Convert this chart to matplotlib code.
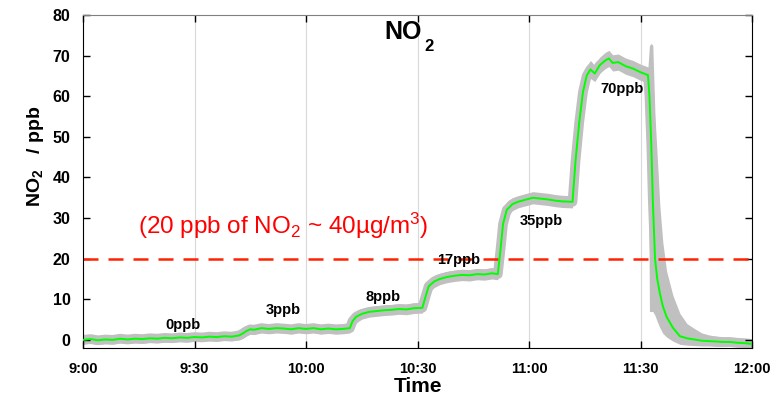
import numpy as np
import matplotlib
matplotlib.use('Agg')
import matplotlib.pyplot as plt

plt.rcParams['font.family'] = ['Liberation Sans', 'DejaVu Sans']
plt.rcParams['mathtext.fontset'] = 'custom'
plt.rcParams['mathtext.rm'] = 'Liberation Sans'
plt.rcParams['mathtext.it'] = 'Liberation Sans:italic'
plt.rcParams['mathtext.bf'] = 'Liberation Sans:bold'

# ==================== DATA ====================
# minutes after 9:00
minutes = [0, 2, 4, 6, 8, 10, 12, 14, 16, 18, 20, 22, 24, 26, 28, 30, 32, 34, 36, 38, 40,
           42, 43, 44, 45, 46, 48, 50, 52, 54, 56, 58, 60, 62, 64, 66, 68, 70, 71.8,
           72.5, 73.5, 75, 77, 79, 81, 83, 85, 87, 89, 91.3,
           92.2, 93, 94.5, 96, 98, 100, 102, 104, 106, 108, 110, 111.6,
           112.3, 113.0, 114, 115.5, 117, 119, 121, 123, 125, 127, 129, 131.7,
           132.5, 133.5, 134.5, 135.5, 136.5, 137.7, 139, 140.5, 141.5, 142.5, 144, 146, 148, 150, 152,
           152.4, 152.9, 153.3, 153.9, 154.5, 155.2, 156.0, 157.0, 158.7, 160.6, 162.5, 164.5, 166.5,
           168.5, 170.5, 172, 174, 176, 178, 180]
no2_ppb = [0.0, 0.2, -0.1, 0.1, 0.0, 0.3, 0.1, 0.3, 0.2, 0.4, 0.3, 0.5, 0.4, 0.6, 0.5, 0.7, 0.6, 0.8, 0.7, 0.9, 0.8,
           1.1, 1.6, 2.2, 2.6, 2.5, 2.9, 2.7, 2.9, 2.8, 2.6, 2.9, 2.7, 2.9, 2.6, 2.8, 2.6, 2.7, 2.9,
           4.6, 5.7, 6.4, 6.9, 7.1, 7.3, 7.4, 7.6, 7.5, 7.8, 7.9,
           10.8, 13.2, 14.4, 15.0, 15.5, 15.8, 16.0, 15.9, 16.2, 16.1, 16.4, 16.2,
           22.0, 28.5, 32.0, 33.4, 34.0, 34.5, 35.0, 34.8, 34.6, 34.3, 34.1, 34.0,
           44.0, 53.5, 61.0, 65.0, 66.6, 65.6, 67.6, 68.8, 69.3, 68.2, 68.4, 67.4, 66.8, 65.9, 65.2,
           60.0, 48.0, 34.5, 20.0, 15.0, 11.5, 8.3, 5.7, 3.0, 0.9, 0.4, 0.1, -0.2,
           -0.3, -0.4, -0.5, -0.5, -0.7, -0.8, -1.0]
err_dn = [1.0] * 21 + [1.1, 1.2, 1.2, 1.2] + [1.2] * 14 + \
         [1.5, 1.5] + [1.3] * 9 + \
         [2.0, 1.6, 1.5] + [1.4] * 9 + \
         [2.5, 2.5, 2.0, 1.6] + [1.5] * 8 + \
         [2.5, 2.5, 2.5, 2.5, 2.2] + [2.0] * 10 + \
         [53, 41, 27.5, 14, 10.5, 8.5, 6.7, 5.0, 3.3, 2.0, 1.7, 1.5, 1.3] + \
         [1.2, 1.2, 1.1, 1.0, 1.0, 1.0, 1.0]
err_up = [1.0] * 21 + [1.1, 1.2, 1.2, 1.2] + [1.2] * 14 + \
         [1.5, 1.5] + [1.3] * 9 + \
         [2.0, 1.6, 1.5] + [1.4] * 9 + \
         [2.5, 2.5, 2.0, 1.6] + [1.5] * 8 + \
         [2.5, 2.5, 2.5, 2.5, 2.2] + [2.0] * 10 + \
         [12.5, 25, 38, 35, 30, 21.5, 15.7, 11.3, 8.0, 5.6, 3.6, 2.7, 1.9] + \
         [1.5, 1.3, 1.1, 1.0, 1.0, 1.0, 1.0]

tick_minutes = [0, 30, 60, 90, 120, 150, 180]
tick_labels = ['9:00', '9:30', '10:00', '10:30', '11:00', '11:30', '12:00']

step_labels = ['0ppb', '3ppb', '8ppb', '17ppb', '35ppb', '70ppb']
step_x = [26.9, 54.0, 80.7, 101.2, 123.2, 145.0]
step_y = [3.7, 7.4, 10.6, 19.7, 29.3, 61.8]

limit_ppb = 20
# ==============================================

t = np.array(minutes)
y = np.array(no2_ppb)
lo = y - np.array(err_dn)
hi = y + np.array(err_up)

fig = plt.figure(figsize=(7.71, 3.98), dpi=100)
ax = fig.add_axes([0.1077, 0.1256, 0.8677, 0.8367])

for xm in tick_minutes[1:-1]:
    ax.axvline(xm, color='#d9d9d9', lw=0.8, zorder=0)

ax.fill_between(t, lo, hi, color='#c0c0c0', lw=0, zorder=1)
ax.plot(t, y, color='#c0c0c0', lw=7, solid_joinstyle='round', solid_capstyle='butt', zorder=1)
ax.plot(t, y, color='#00ff00', lw=1.4, zorder=3)

ax.axhline(limit_ppb, color='#ff2200', lw=1.8, ls=(0, (6, 4)), zorder=2)

ax.text(53.8, 28, '(20 ppb of NO$_2$ ~ 40µg/m$^3$)', color='#ff0000', fontsize=17.5,
        ha='center', va='center')
# title: NO with a low subscript 2
ax.text(91.2, 75.8, 'NO', fontsize=18, fontweight='bold', ha='right', va='center')
ax.text(91.8, 72.3, '2', fontsize=12, fontweight='bold', ha='left', va='center')
for lab, xx, yy in zip(step_labels, step_x, step_y):
    ax.text(xx, yy, lab, fontsize=10.5, fontweight='bold', ha='center', va='center')

ax.set_xlim(0, 180)
ax.set_ylim(-2, 80)
ax.set_xticks(tick_minutes)
ax.set_xticklabels(tick_labels, fontweight='bold', fontsize=10.5)
ax.set_yticks(range(0, 81, 10))
ax.set_yticklabels([str(v) for v in range(0, 81, 10)], fontweight='bold', fontsize=11.5)
ax.tick_params(direction='in', length=5, width=1, top=True, right=True)
ax.tick_params(axis='x', pad=10)
ax.tick_params(axis='y', pad=9)
ax.spines['top'].set_color('#808080')
ax.set_xlabel('Time', fontsize=15, fontweight='bold', labelpad=1)
ax.set_ylabel(r'NO$_\mathbf{2}$   / ppb', fontsize=14, fontweight='bold')
ax.yaxis.set_label_coords(-0.055, 0.575)

fig.savefig('out.png', dpi=100)
